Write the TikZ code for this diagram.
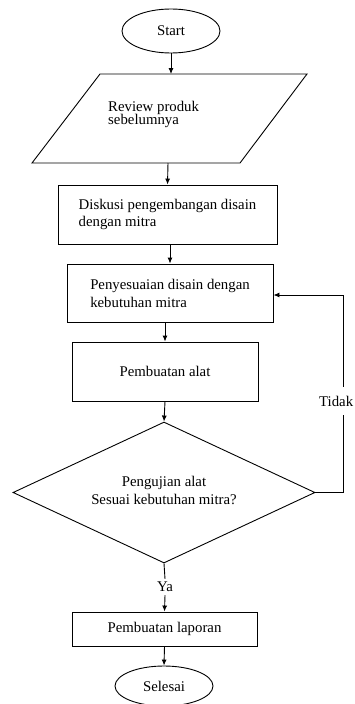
\documentclass[tikz,border=0pt]{standalone}
\usepackage{fontspec}
\setmainfont{Liberation Serif}
\usetikzlibrary{shapes.geometric,arrows.meta}
\begin{document}
\begin{tikzpicture}[x=1pt,y=-1pt,
  every node/.style={font=\fontsize{14.8}{17}\selectfont, inner sep=0pt},
  line/.style={line width=0.9pt, draw=black},
  arr/.style={line, -{Latex[length=6pt,width=5pt]}},
  box/.style={draw, line width=0.9pt, rectangle, align=left},
  term/.style={draw, ellipse, line width=0.9pt},
]
\useasboundingbox (0,0) rectangle (354,704);
% start
\node[term, minimum width=98pt, minimum height=44pt] (start) at (171,31) {Start};
% parallelogram
\coordinate (rtl) at (100,74);
\coordinate (rtr) at (307,74);
\coordinate (rbr) at (240,163);
\coordinate (rbl) at (32,163);
\draw[line] (rtl)--(rtr)--(rbr)--(rbl)--cycle;
\node[anchor=west, align=left, font=\fontsize{14.8}{13.5}\selectfont] (review) at (108,114.5) {Review produk\\sebelumnya};
\coordinate (revin) at (171,74);
\coordinate (revout) at (168,163);
% boxes
\node[box, minimum width=219pt, minimum height=59pt, font=\fontsize{14.8}{16.5}\selectfont] (diskusi) at (167.5,214.5) {Diskusi pengembangan disain\\dengan mitra};
\node[box, minimum width=206pt, minimum height=58pt, font=\fontsize{14.8}{18}\selectfont] (penyes) at (170,293) {Penyesuaian disain dengan\\kebutuhan mitra};
\node[box, minimum width=186pt, minimum height=59pt] (alat) at (165,371.5) {Pembuatan alat};
\node[draw, diamond, shape aspect=2.14, line width=0.9pt, minimum width=302pt, minimum height=141pt, align=center, font=\fontsize{14.8}{18}\selectfont] (uji) at (164,492.5) {\raisebox{4pt}{\shortstack{Pengujian alat\\[1pt]Sesuai kebutuhan mitra?}}};
\node[inner sep=3pt] (ya) at (165,587) {Ya};
\node[box, minimum width=185pt, minimum height=34pt] (lap) at (164.5,629) {Pembuatan laporan};
\node[term, minimum width=98pt, minimum height=40pt] (selesai) at (164,686) {Selesai};
% connectors
\draw[arr] (start.south) -- (revin);
\draw[arr] (revout) -- (diskusi.north);
\draw[arr] (penyes.north |- diskusi.south) -- (penyes.north);
\draw[arr] (alat.north |- penyes.south) -- (alat.north);
\draw[arr] (alat.south) -- (uji.north);
\draw[line] (uji.south) -- (ya.north);
\draw[arr] (ya.south) -- (lap.north);
\draw[arr] (lap.south) -- (selesai.north);
\coordinate (c1) at (343,492.5);
\coordinate (c2) at (343,295);
\draw[arr] (uji.east) -- (c1) -- (c2) -- (c2 -| penyes.east);
\node[anchor=west, fill=white, inner xsep=0pt, minimum height=28pt] (tidak) at (319,401) {Tidak};
\end{tikzpicture}
\end{document}
